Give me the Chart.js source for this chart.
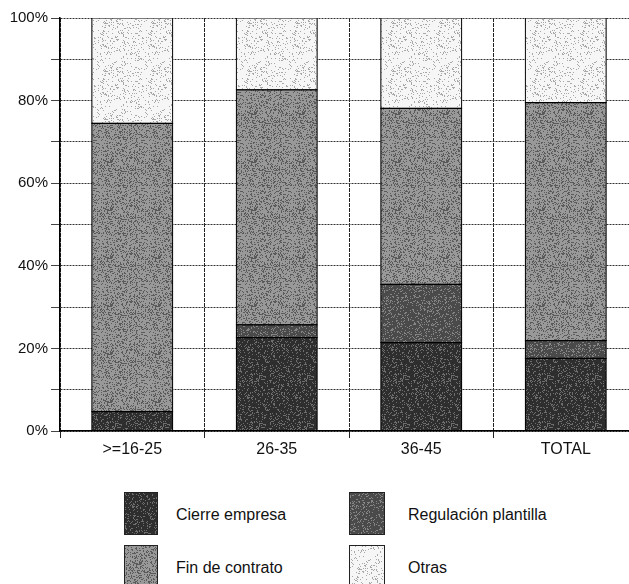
<!DOCTYPE html>
<html>
<head>
<meta charset="utf-8">
<script src="https://cdn.jsdelivr.net/npm/chart.js@4/dist/chart.umd.min.js"></script>
<style>
  html, body { margin: 0; padding: 0; background: #fff; overflow: hidden; }
  body { width: 629px; height: 584px; position: relative; font-family: Arial, "Liberation Sans", sans-serif; }
  #wrap { position: absolute; left: 0; top: 0; width: 660px; height: 470px; }
  .box { position: absolute; border: 1px solid #222; box-sizing: border-box; }
  .lbl { position: absolute; font-size: 16px; line-height: 16px; color: #111; white-space: nowrap; }
</style>
</head>
<body>
<div id="wrap"><canvas id="chart"></canvas></div>
<div id="legend"></div>
<script>
// data (percent of each age group)
const categories = ['>=16-25', '26-35', '36-45', 'TOTAL'];
const seriesNames = ['Cierre empresa', 'Regulación plantilla', 'Fin de contrato', 'Otras'];
const cierre = [4.7, 22.6, 21.4, 17.6];
const regulacion = [0, 3.1, 14.1, 4.3];
const finContrato = [69.8, 56.9, 42.6, 57.6];
const otras = [25.5, 17.4, 21.9, 20.5];
const yTicks = [0, 20, 40, 60, 80, 100];

// speckled grey textures, like the scanned print (fixed hash, no randomness)
function hash(x, y, s) {
    let h = (x * 374761393 + y * 668265263 + s * 2147483647) | 0;
    h = (h ^ (h >>> 13)) * 1274126177 | 0;
    h = h ^ (h >>> 16);
    return (h >>> 0) / 4294967296;
}

function texture(base, speck, amount, seed) {
    const c = document.createElement('canvas');
    c.width = 48; c.height = 48;
    const g = c.getContext('2d');
    g.fillStyle = base;
    g.fillRect(0, 0, 48, 48);
    g.fillStyle = speck;
    for (let y = 0; y < 48; y++) {
        for (let x = 0; x < 48; x++) {
            if (hash(x, y, seed) < amount) g.fillRect(x, y, 1, 1);
        }
    }
    return c;
}

const tex = [
    texture('#2e2e2e', '#6e6e6e', 0.2, 1),
    texture('#4a4a4a', '#858585', 0.2, 2),
    texture('#999999', '#5a5a5a', 0.25, 3),
    texture('#f6f6f6', '#a8a8a8', 0.12, 4)
];
const tmp = document.createElement('canvas').getContext('2d');
const fills = tex.map(t => tmp.createPattern(t, 'repeat'));

const values = [cierre, regulacion, finContrato, otras];

const ctx = document.getElementById('chart').getContext('2d');
new Chart(ctx, {
    type: 'bar',
    data: {
        labels: categories,
        datasets: seriesNames.map((name, i) => ({
            label: name,
            data: values[i],
            backgroundColor: fills[i],
            borderColor: '#000',
            borderWidth: 1.2,
            borderSkipped: false,
            inflateAmount: 0.6,
            categoryPercentage: 1,
            barPercentage: 0.56
        }))
    },
    options: {
        responsive: true,
        maintainAspectRatio: false,
        animation: false,
        layout: { padding: { left: 0, right: 22, top: 18, bottom: 0 } },
        plugins: { legend: { display: false }, tooltip: { enabled: false } },
        scales: {
            x: {
                stacked: true,
                offset: true,
                grid: { offset: true, color: '#222', lineWidth: 1, tickLength: 7, tickColor: '#222' },
                border: { color: '#000', width: 1.5, dash: [4, 1] },
                ticks: { color: '#111', padding: 2, font: { family: 'Arial', size: 16 } },
                afterFit: s => { s.height = 39; }
            },
            y: {
                stacked: true,
                min: 0,
                max: 100,
                ticks: {
                    stepSize: 10,
                    color: '#111',
                    padding: 3,
                    font: { family: 'Arial', size: 15 },
                    callback: v => yTicks.includes(v) ? v + '%' : ''
                },
                grid: { color: '#333', lineWidth: 1, tickLength: 9, tickColor: '#444' },
                border: { color: '#000', width: 1.5, dash: [2, 1] },
                afterFit: s => { s.width = 60; }
            }
        }
    }
});

// legend in two columns, as in the original
const legendPos = [
    { bx: 124, bw: 34, tx: 176, row: 0 },
    { bx: 349, bw: 36, tx: 408, row: 0 },
    { bx: 124, bw: 34, tx: 176, row: 1 },
    { bx: 349, bw: 36, tx: 408, row: 1 }
];
const legend = document.getElementById('legend');
seriesNames.forEach((name, i) => {
    const p = legendPos[i];
    const top = 492 + p.row * 53;
    const box = document.createElement('div');
    box.className = 'box';
    box.style.left = p.bx + 'px';
    box.style.top = top + 'px';
    box.style.width = p.bw + 'px';
    box.style.height = '43px';
    box.style.backgroundImage = 'url(' + tex[i].toDataURL() + ')';
    legend.appendChild(box);
    const t = document.createElement('div');
    t.className = 'lbl';
    t.textContent = name;
    t.style.left = p.tx + 'px';
    t.style.top = (top + 15) + 'px';
    legend.appendChild(t);
});
</script>
</body>
</html>
